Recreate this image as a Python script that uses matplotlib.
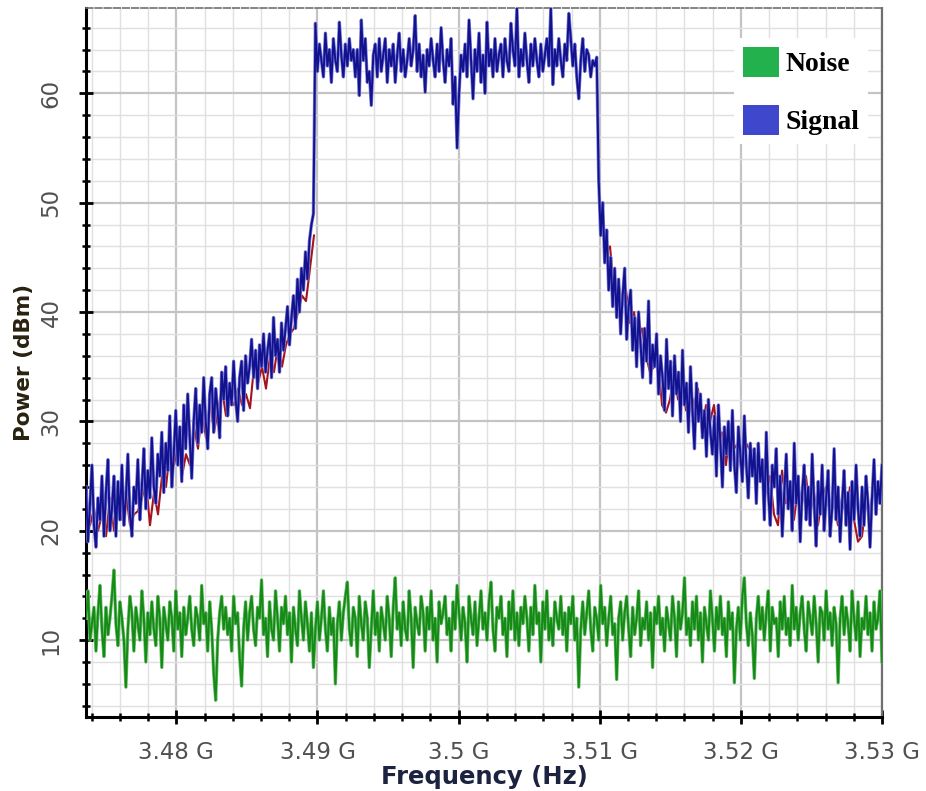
import numpy as np
import matplotlib
matplotlib.use("Agg")
import matplotlib.pyplot as plt
from matplotlib.patches import Patch
from matplotlib.ticker import MultipleLocator, FuncFormatter

# sweep settings (Hz)
freq_start = 3.4736e9
freq_stop = 3.53e9

# measured signal trace (dBm), 400 sweep points
signal_dbm = [
    # lower skirt
    24, 19, 22.5, 26, 20.5, 18.5, 23, 21, 25, 19.5,
    23.5, 26.5, 20, 22, 25, 19.5, 24.5, 21, 26, 20.5,
    23, 27, 21.5, 19.5, 24, 22.5, 26.5, 21, 24, 27.5,
    22, 25.5, 23, 28.5, 24, 22.5, 27, 25, 29, 23.5,
    28, 25.5, 30.5, 24, 27, 31, 26, 29.5, 24.5, 31.5,
    27.5, 32.5, 28.5, 24.8, 30, 33, 28, 31.5, 29, 34,
    30, 27.5, 32.5, 34, 29, 33, 31, 28.5, 34.5, 32,
    35, 30.5, 33.5, 31.5, 35.5, 32, 30, 34, 35.5, 31,
    36, 33.5, 35, 37.5, 34, 36.5, 33, 37, 35, 38,
    34.5, 36.5, 38, 34, 39.5, 36, 37.5, 34.5, 39, 36.5,
    38.5, 40.5, 37, 39.5, 41.5, 38.5, 43, 40, 44, 42,
    45.5, 43, 46.5, 48, 49,
    # in-band
    66.4, 62, 64.5, 63, 61.5, 65.5, 62.5, 64, 61, 65,
    63, 62, 66.5, 63.5, 61.5, 64.5, 62.5, 65, 63, 64,
    61.5, 64, 59.8, 66.7, 63, 65, 61, 62, 58.9, 63.5,
    64.5, 61.5, 65, 62, 63.5, 65, 61, 64, 62.5, 64.5,
    61, 63.5, 65.5, 62, 64, 61.5, 63, 65, 62.5, 64,
    67.1, 62, 64.5, 61.5, 63.5, 60.1, 64, 62.5, 65, 63,
    61.5, 64.5, 62, 66, 63, 61, 64, 62.5, 65, 59,
    61.5, 55, 60, 63.5, 62, 64.5, 61.5, 66.7, 63, 59.5,
    64, 62, 65.5, 61, 63.5, 60, 66.5, 62.5, 64, 61.5,
    65, 62, 63.5, 64.5, 61.5, 65, 63, 62, 66.4, 64,
    62.5, 67.8, 61.5, 64, 62.5, 65.5, 63, 61, 64.5, 62.5,
    65, 63, 61.5, 64.5, 62, 63.5, 65, 62.5, 67.8, 60.8,
    64, 62.5, 65, 63, 61.5, 64.5, 63, 67.3, 65, 62.5,
    64.5, 61.5, 59.5, 63, 65, 62, 64, 63.5, 61.5, 63,
    62.5, 63.3,
    # upper skirt
    52, 47, 50, 44.5, 47.5, 42, 45, 40.5, 44, 39.5,
    43, 38, 41.5, 44, 37.5, 40.5, 42, 36.5, 39.5, 35,
    40, 37, 34, 38.5, 35.5, 41, 33.5, 37, 35, 38,
    32.5, 36, 34, 31, 37.5, 33, 35.5, 30.5, 36, 32.5,
    34.5, 30, 36.5, 31.5, 33.5, 29, 35, 31, 27.5, 33.5,
    30, 32.5, 28.5, 31, 26.8, 32, 29, 27, 30.5, 25,
    31.5, 28, 24, 29.5, 27, 30, 25.5, 31, 26, 23.5,
    29.5, 27, 24.5, 30.5, 26, 23, 28, 25, 27.5, 22.5,
    28, 24.5, 26.5, 21, 29, 23.5, 20.5, 26, 24, 27.5,
    21.5, 25, 19.5, 23.5, 27, 22, 24.5, 20, 28, 22.5,
    25, 19, 23.5, 26, 21, 24, 20.5, 27, 22.5, 18.6,
    24.5, 21.5, 26, 20, 23, 25.5, 19.5, 22, 27.5, 21,
    24, 19, 22.5, 25.5, 20.5, 23.5, 18.3, 24.5, 21, 26,
    22, 19.5, 24, 20.5, 25, 22.5, 18.5, 23, 26.5, 21.5,
    24.5, 22.5, 26,
]

# second (reference) trace, 200 sweep points, only visible on the skirts
ref_lower_dbm = [
    23, 20.5, 22, 20, 21.5, 19.5, 23, 20, 22.5, 21,
    23.5, 20.5, 21.5, 21.8, 23, 24.5, 20.5, 23.5, 21.5, 25,
    24, 27.5, 26, 28, 25, 27, 26, 29.5, 27.5, 31,
    28.5, 32, 29, 31, 33, 30.5, 32, 31.5, 33, 31.5,
    32.5, 31.2, 35, 33.5, 35, 33, 36, 34.5, 37, 35,
    37, 38, 38.5, 40, 41.5, 41, 44, 47,
]
ref_upper_dbm = [
    48, 45.5, 46, 42, 43, 40.5, 42, 39, 40, 37.5,
    38.5, 36, 34.5, 35, 36, 31.5, 30.8, 32, 34.5, 32,
    34, 31, 33, 31.5, 33, 29, 31.5, 30, 31.5, 28,
    29, 26, 29.5, 27.5, 28, 25, 28, 27.4, 26.5, 24.5,
    26.5, 23.5, 25, 21.5, 20.5, 25.5, 22.5, 23.5, 21, 24,
    22.5, 25, 21.5, 23.5, 20.5, 23, 24, 21.5, 22.5, 20.5,
    23, 21.5, 24, 21, 19, 19.5, 22.5, 22, 24, 23, 23.5,
]
ref_points = 200

# noise floor trace (dBm), 400 sweep points
noise_dbm = [
    12, 14.5, 10, 11.5, 13, 9, 12.5, 15, 11, 8.5,
    13, 10.5, 12, 14, 16.4, 11.5, 9.5, 13.5, 12, 10,
    5.7, 11, 14, 12.5, 9, 13, 11.5, 10, 14.5, 12,
    8, 12.5, 10.5, 13.5, 11, 9.5, 14, 12, 7.5, 13,
    11.5, 10, 13.5, 12, 9, 14.5, 11, 12.5, 8.5, 13,
    10.5, 12, 14, 11, 9.5, 13, 12, 10, 15, 11.5,
    12.5, 9, 13.5, 11, 7, 4.5, 10, 12.5, 14, 11,
    13, 10.5, 12, 9, 14, 11.5, 12.5, 8.5, 5.8, 11,
    13.5, 10, 12.5, 14, 11, 9.5, 13, 12, 15.5, 10.5,
    12, 8.5, 13.5, 11, 10, 14.5, 12, 9, 13, 11.5,
    14, 10.5, 12.5, 8, 13, 11, 9.5, 14.5, 12, 10,
    13.5, 11.5, 9, 12.5, 7.5, 11, 13.5, 10, 12, 14.5,
    11, 9, 13, 10.5, 12, 6, 11.5, 13.5, 10, 12.5,
    14, 15.3, 11, 9.5, 13, 12, 8.5, 14, 11.5, 10,
    13.5, 12, 7.5, 11, 14.5, 10.5, 12.5, 9, 13, 11.5,
    10, 14, 12, 8.5, 13, 15.7, 11, 12.5, 9.5, 13.5,
    11, 10, 14.5, 12, 7.5, 13, 11.5, 10.5, 14, 12.5,
    9, 13, 11, 14.5, 10, 12, 8, 13.5, 11.5, 12.5,
    14, 10.5, 12, 9, 13.5, 11, 15, 12.5, 10, 13,
    11.5, 8, 14, 12, 10.5, 13.5, 9.5, 12, 14.5, 11,
    12.5, 10, 13.5, 15.3, 11, 9, 13, 12, 14, 10.5,
    12, 8.5, 13.5, 11, 14.5, 10, 12.5, 9.5, 13, 11.5,
    14, 12, 9, 13, 10.5, 15, 11.5, 12.5, 8, 13.5,
    11, 14.5, 10, 12, 9.5, 13.5, 12, 11, 14, 10.5,
    12.5, 9, 13, 11.5, 14, 10, 12, 5.7, 11, 13.5,
    10.5, 12.5, 14.5, 11, 9, 13, 12, 10, 15, 11.5,
    13, 9.5, 12, 14, 10.5, 11.5, 6.4, 12, 13.5, 10,
    12.5, 14, 11, 8.5, 13, 10.5, 12, 14.5, 9.5, 12,
    11, 13.5, 10, 12.5, 7.5, 13, 11.5, 14, 10.5, 12,
    9, 13, 11.5, 10, 14, 12, 8.5, 13.5, 11, 12.5,
    15.7, 10.5, 12, 9.5, 13.5, 11, 14, 10, 12.5, 8,
    13, 11.5, 10, 14.5, 12, 9, 13, 11, 14, 10.5,
    12, 8.5, 13.5, 11, 12.5, 6.1, 11, 13, 10, 14,
    15.7, 11.5, 9.5, 12.5, 10.5, 6.5, 12, 14, 11, 13,
    10, 12.5, 14.5, 9, 13, 11.5, 12, 8.5, 13.5, 11,
    14, 10.5, 12, 9.5, 15, 11, 13, 10, 12.5, 14,
    11, 9, 13.5, 12, 10.5, 14, 11.5, 8, 13, 12.5,
    10, 14.5, 11, 12.5, 9.5, 13, 11.5, 6.1, 12, 14,
    10.5, 13, 11.5, 9, 14.5, 12, 10, 13.5, 8.5, 12,
    11, 14, 10.5, 12.5, 9, 13.5, 11, 12, 14.5, 8,
]

legend_labels = ["Noise", "Signal"]

freq = np.linspace(freq_start, freq_stop, len(signal_dbm))
freq_ref = np.linspace(freq_start, freq_stop, ref_points)
ref_dbm = np.full(ref_points, np.nan)
ref_dbm[:len(ref_lower_dbm)] = ref_lower_dbm
ref_dbm[ref_points - len(ref_upper_dbm):] = ref_upper_dbm

fig = plt.figure(figsize=(9.26, 7.91), dpi=100)
ax = fig.add_axes([86 / 926, 1 - 717 / 791, 796 / 926, 709 / 791])

# light halo first, darker core on top
ax.plot(freq, noise_dbm, color="#6cc06c", lw=2.4, zorder=3)
ax.plot(freq, noise_dbm, color="#168a16", lw=1.4, zorder=3)
ax.plot(freq_ref, ref_dbm, color="#a3141e", lw=1.5, zorder=3)
ax.plot(freq, signal_dbm, color="#7c7cd8", lw=2.4, zorder=4)
ax.plot(freq, signal_dbm, color="#12128f", lw=1.4, zorder=4)

ax.set_xlim(freq_start, freq_stop)
ax.set_ylim(2.97, 67.8)

ax.xaxis.set_major_locator(MultipleLocator(0.01e9))
ax.xaxis.set_minor_locator(MultipleLocator(0.002e9))
ax.yaxis.set_major_locator(MultipleLocator(10))
ax.yaxis.set_minor_locator(MultipleLocator(2))
ax.xaxis.set_major_formatter(FuncFormatter(lambda v, p: f"{v / 1e9:g} G"))

ax.grid(which="major", color="#c4c4c4", lw=1.6, zorder=0)
ax.grid(which="minor", color="#e0e0e0", lw=1.0, zorder=0)
ax.set_axisbelow(True)

ax.tick_params(which="major", direction="inout", length=10, width=2, color="black",
               labelcolor="#505050", labelsize=16.5)
ax.tick_params(which="minor", direction="inout", length=6, width=1.8, color="black")
ax.tick_params(axis="x", pad=12)
ax.tick_params(axis="y", pad=12, labelrotation=90)
for lbl in ax.get_yticklabels():
    lbl.set_va("center")

for side in ["left", "bottom"]:
    ax.spines[side].set_linewidth(2.2)
    ax.spines[side].set_color("black")
ax.spines["top"].set_linestyle((0, (4, 1.5)))
ax.spines["top"].set_color("#707070")
ax.spines["top"].set_linewidth(1.2)
ax.spines["right"].set_linestyle((0, (1, 1)))
ax.spines["right"].set_color("#707070")
ax.spines["right"].set_linewidth(1.6)

fig.text(24 / 926, 1 - 362 / 791, "Power (dBm)", rotation=90, ha="center", va="center",
         fontsize=15.5, fontweight="bold", color="#2a2210")
fig.text(484 / 926, 1 - 777 / 791, "Frequency (Hz)", ha="center", va="center",
         fontsize=17.5, fontweight="bold", color="#1c2340")

handles = [Patch(facecolor="#22b14c", edgecolor="none"),
           Patch(facecolor="#3f48cc", edgecolor="none")]
leg = ax.legend(handles, legend_labels, loc="upper right", bbox_to_anchor=(1.0, 0.977),
                prop={"family": "Liberation Serif", "weight": "bold", "size": 20},
                handlelength=1.3, handleheight=1.3, handletextpad=0.25,
                labelspacing=1.0, borderpad=0.3, frameon=True, fancybox=False)
leg.get_frame().set_facecolor("white")
leg.get_frame().set_edgecolor("none")
leg.get_frame().set_alpha(1)
leg.set_zorder(5)

fig.savefig("out.png", dpi=100)
